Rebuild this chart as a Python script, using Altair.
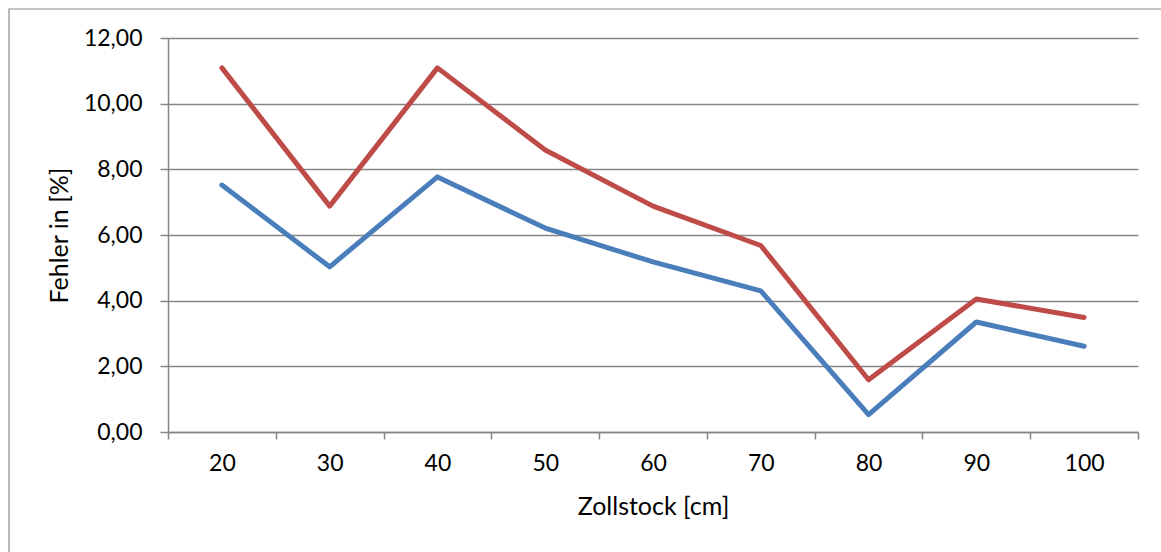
import altair as alt
import pandas as pd

zollstock = [20, 30, 40, 50, 60, 70, 80, 90, 100]
fehler_blau = [7.52, 5.03, 7.77, 6.21, 5.18, 4.30, 0.53, 3.35, 2.61]
fehler_rot = [11.09, 6.88, 11.09, 8.59, 6.88, 5.68, 1.59, 4.05, 3.49]
serien = ["Reihe 1", "Reihe 2"]
farben = ["#4A7EBB", "#BE4B48"]
x_werte = [15, 20, 25, 30, 35, 40, 45, 50, 55, 60, 65, 70, 75, 80, 85, 90, 95, 100, 105]
y_werte = [0, 2, 4, 6, 8, 10, 12]

df = pd.DataFrame({
    "Zollstock": zollstock * 2,
    "Fehler": fehler_blau + fehler_rot,
    "Serie": [serien[0]] * len(zollstock) + [serien[1]] * len(zollstock),
})

FONT = "Lato"
GRAU = "#868686"

lines = alt.Chart(df).mark_line(strokeWidth=5, strokeCap="round", strokeJoin="round").encode(
    x=alt.X(
        "Zollstock:Q",
        scale=alt.Scale(domain=[15, 105], nice=False, zero=False),
        axis=alt.Axis(
            values=x_werte,
            title="Zollstock [cm]",
            grid=False,
            domainColor=GRAU,
            domainWidth=1.5,
            tickColor=GRAU,
            tickWidth=1.5,
            tickSize={"condition": {"test": "datum.value % 10 == 5", "value": 7}, "value": 0},
            labelExpr="datum.value % 10 == 0 ? datum.label : ''",
            labelOverlap=False,
            labelFlush=False,
            labelPadding=20,
            titlePadding=12,
        ),
    ),
    y=alt.Y(
        "Fehler:Q",
        scale=alt.Scale(domain=[0, 12], nice=False),
        axis=alt.Axis(
            values=y_werte,
            title="Fehler in [%]",
            labelExpr="replace(format(datum.value, '.2f'), '.', ',')",
            grid=True,
            gridColor=GRAU,
            gridWidth=1.5,
            domainColor=GRAU,
            domainWidth=1.5,
            tickColor=GRAU,
            tickWidth=1.5,
            tickSize=8,
            labelPadding=18,
            titlePadding=11,
        ),
    ),
    color=alt.Color("Serie:N", scale=alt.Scale(domain=serien, range=farben), legend=None),
)

border = alt.Chart(pd.DataFrame({"r": [0]})).mark_rect(
    fill=None, stroke="#8c8c8c", strokeWidth=1.2
).encode(
    x=alt.value(-159), x2=alt.value(1010), y=alt.value(-29), y2=alt.value(540)
)

chart = alt.layer(border, lines).properties(
    width=970,
    height=394,
    autosize=alt.AutoSizeParams(type="none"),
    padding={"left": 168, "top": 38, "right": 23, "bottom": 120},
    background="white",
).configure_view(stroke=None).configure_axis(
    labelFont=FONT,
    titleFont=FONT,
    labelFontSize=23,
    titleFontSize=25,
    labelColor="#000000",
    titleColor="#000000",
    titleFontWeight="normal",
)

chart.save("out.html", embed_options={"renderer": "svg", "actions": False})
